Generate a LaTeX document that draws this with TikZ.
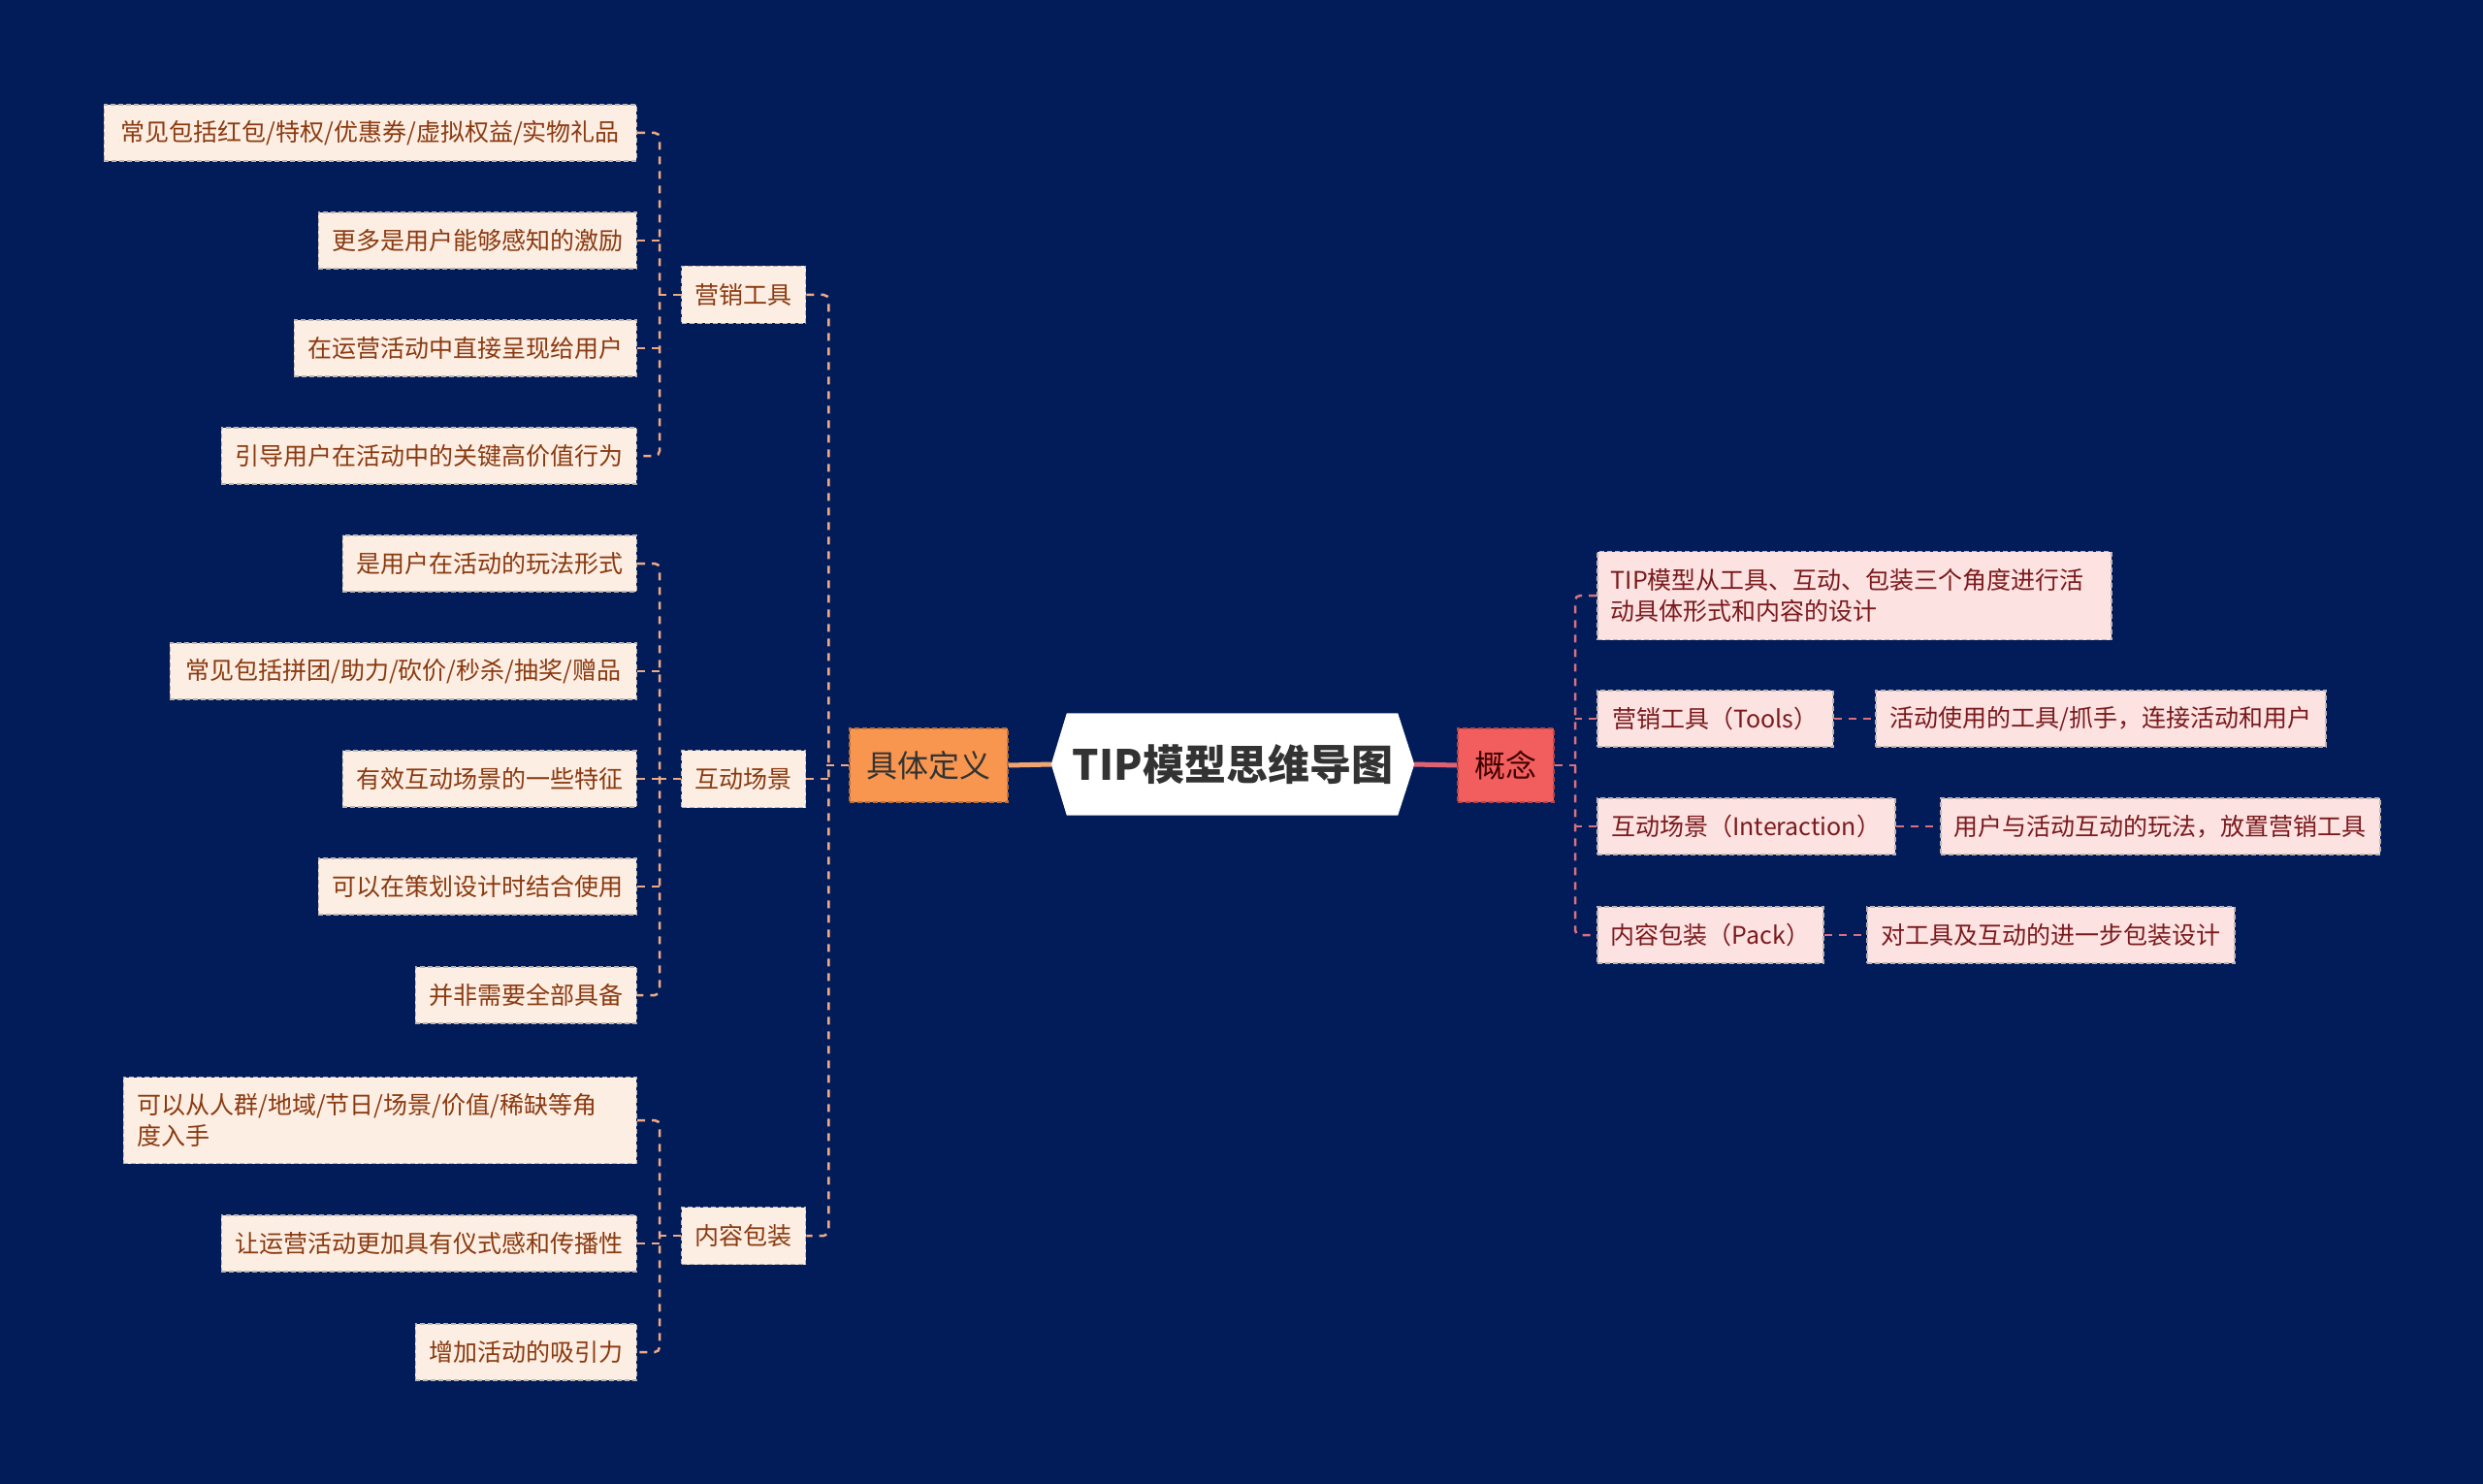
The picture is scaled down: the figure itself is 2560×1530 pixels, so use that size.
\documentclass[tikz,border=0pt]{standalone}
\usepackage{fontspec}
\setmainfont{Noto Sans CJK SC}
\pgfdeclarelayer{bgl}\pgfdeclarelayer{edges}\pgfdeclarelayer{hexl}
\pgfsetlayers{bgl,edges,hexl,main}
\definecolor{bgc}{HTML}{011C59}
\definecolor{leaffill}{HTML}{FDEEE3}
\definecolor{leaftext}{HTML}{8A3A10}
\definecolor{rfill}{HTML}{FDE2E2}
\definecolor{rtext}{HTML}{7A1A1C}
\definecolor{lline}{HTML}{EFA983}
\definecolor{rlinec}{HTML}{D8707F}
\definecolor{boxline}{HTML}{BDB5B2}
\definecolor{dfill}{HTML}{F8954F}
\definecolor{kfill}{HTML}{F25E5E}
\definecolor{oline}{HTML}{F2A470}
\definecolor{pline}{HTML}{DE6272}
\tikzset{
  base/.style={draw=boxline, dash pattern=on 5pt off 3pt, line width=1.5pt, inner xsep=14pt, inner ysep=0pt, font=\fontsize{25}{32}\selectfont},
  leaf/.style={base, fill=leaffill, text=leaftext, minimum height=58pt, anchor=east},
  midbox/.style={base, fill=leaffill, text=leaftext, minimum height=59pt, minimum width=127pt},
  rbox/.style={base, fill=rfill, text=rtext, minimum height=58pt, anchor=west},
  lconn/.style={draw=lline, line width=2.5pt, dash pattern=on 8pt off 7pt, rounded corners=5pt},
  rconn/.style={draw=rlinec, line width=2.5pt, dash pattern=on 8pt off 7pt, rounded corners=5pt},
}
\begin{document}
\begin{tikzpicture}[x=1pt,y=-1pt]
\begin{pgfonlayer}{bgl}
\fill[bgc] (0,0) rectangle (2560,1530);
\end{pgfonlayer}
\useasboundingbox (0,0) rectangle (2560,1530);

% center
\node[minimum width=374pt, minimum height=105pt, inner sep=0pt, text=black!80, font=\fontsize{43}{50}\selectfont\bfseries] (C) at (1271,788) {TIP模型思维导图};
\begin{pgfonlayer}{hexl}
\fill[white] (C.west) -- ([xshift=16pt]C.north west) -- ([xshift=-17pt]C.north east) -- (C.east) -- ([xshift=-17pt]C.south east) -- ([xshift=16pt]C.south west) -- cycle;
\end{pgfonlayer}

\node[base, draw=dfill!75!black, fill=dfill, text=black!80, minimum width=163pt, minimum height=76pt, font=\fontsize{32}{38}\selectfont] (D) at (957.5,789) {具体定义};
\node[base, draw=kfill!75!black, fill=kfill, text=black!75!red, minimum width=99pt, minimum height=76pt, font=\fontsize{32}{38}\selectfont] (K) at (1552.5,789) {概念};

% mid left
\node[midbox] (m1) at (766.5,304) {营销工具};
\node[midbox] (m2) at (766.5,803) {互动场景};
\node[midbox] (m3) at (766.5,1274) {内容包装};

% leaves
\node[leaf, minimum width=549pt] (a1) at (657,137) {常见包括红包/特权/优惠券/虚拟权益/实物礼品};
\node[leaf, minimum width=326pt] (a2) at (657,248) {更多是用户能够感知的激励};
\node[leaf, minimum width=352pt] (a3) at (657,359) {在运营活动中直接呈现给用户};
\node[leaf, minimum width=428pt] (a4) at (657,470) {引导用户在活动中的关键高价值行为};
\node[leaf, minimum width=302pt] (a5) at (657,581) {是用户在活动的玩法形式};
\node[leaf, minimum width=481pt] (a6) at (657,692) {常见包括拼团/助力/砍价/秒杀/抽奖/赠品};
\node[leaf, minimum width=301pt] (a7) at (657,803) {有效互动场景的一些特征};
\node[leaf, minimum width=327pt] (a8) at (657,914) {可以在策划设计时结合使用};
\node[leaf, minimum width=228pt] (a9) at (657,1026) {并非需要全部具备};
\node[leaf, text width=501pt, align=left, minimum height=89pt] (a10) at (657,1155) {可以从人群/地域/节日/场景/价值/稀缺等角\\度入手};
\node[leaf, minimum width=428pt] (a11) at (657,1282) {让运营活动更加具有仪式感和传播性};
\node[leaf, minimum width=227pt] (a12) at (657,1394) {增加活动的吸引力};

% right
\node[rbox, text width=502pt, align=left, minimum height=91pt] (r1) at (1646,614) {TIP模型从工具、互动、包装三个角度进行活\\动具体形式和内容的设计};
\node[rbox, minimum width=243pt] (r2) at (1646,741) {营销工具（Tools）};
\node[rbox, minimum width=464pt] (r2b) at (1933,741) {活动使用的工具/抓手，连接活动和用户};
\node[rbox, minimum width=307pt] (r3) at (1646,852) {互动场景（Interaction）};
\node[rbox, minimum width=452pt] (r3b) at (2000,852) {用户与活动互动的玩法，放置营销工具};
\node[rbox, minimum width=232pt] (r4) at (1646,964) {内容包装（Pack）};
\node[rbox, minimum width=379pt] (r4b) at (1924,964) {对工具及互动的进一步包装设计};

\begin{pgfonlayer}{edges}
\draw[oline, line width=5pt] (D.east) -- (C.west);
\draw[pline, line width=5pt] (C.east) -- (K.west);
% left brackets
\draw[lconn] (a1.east) -- ++(23,0) |- (a4.east);
\draw[lconn] (a2.east) -- ++(23,0);
\draw[lconn] (a3.east) -- ++(23,0);
\draw[lconn] (m1.west) -- ++(-23,0);
\draw[lconn] (a5.east) -- ++(23,0) |- (a9.east);
\draw[lconn] (a6.east) -- ++(23,0);
\draw[lconn] (a7.east) -- ++(23,0);
\draw[lconn] (a8.east) -- ++(23,0);
\draw[lconn] (m2.west) -- ++(-23,0);
\draw[lconn] (a10.east) -- ++(23,0) |- (a12.east);
\draw[lconn] (a11.east) -- ++(23,0);
\draw[lconn] (m3.west) -- ++(-23,0);
\draw[lconn] (m1.east) -- ++(23,0) |- (m3.east);
\draw[lconn] (m2.east) -- ++(23,0);
\draw[lconn] (D.west) -- ++(-24,0);
% right bracket
\draw[rconn] (r1.west) -- ++(-22,0) |- (r4.west);
\draw[rconn] (r2.west) -- ++(-22,0);
\draw[rconn] (r3.west) -- ++(-22,0);
\draw[rconn] (K.east) -- ++(22,0);
\draw[rconn] (r2.east) -- (r2b.west);
\draw[rconn] (r3.east) -- (r3b.west);
\draw[rconn] (r4.east) -- (r4b.west);
\end{pgfonlayer}
\end{tikzpicture}
\end{document}
